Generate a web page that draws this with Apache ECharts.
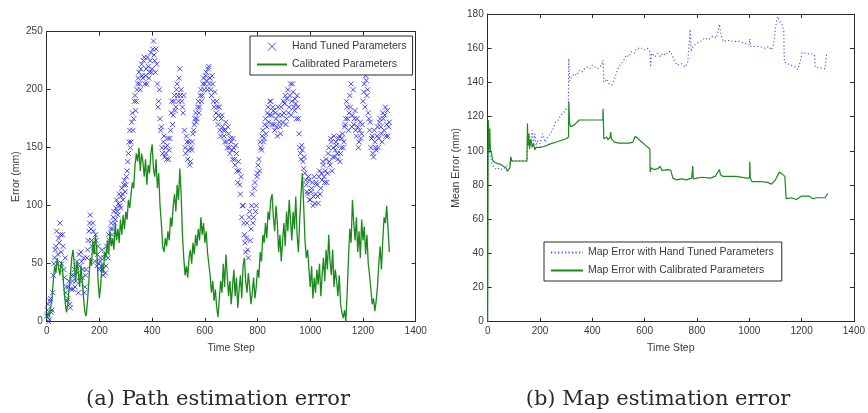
<!DOCTYPE html>
<html>
<head>
<meta charset="utf-8">
<script src="https://cdn.jsdelivr.net/npm/echarts@6/dist/echarts.min.js"></script>
<style>
html,body{margin:0;padding:0;background:#fff;}
#chart{width:868px;height:413px;}
</style>
</head>
<body>
<div id="chart"></div>
<script>
// ---- (a) Path estimation error : values sampled every 5 time steps ----
const pathStep = 5;
const xTicks = [0, 200, 400, 600, 800, 1000, 1200, 1400];
const pathYTicks = [0, 50, 100, 150, 200, 250];
const mapYTicks = [0, 20, 40, 60, 80, 100, 120, 140, 160, 180];

// hand tuned, t = 0, 5, 10, ... 1300
const handTunedPathA = [
  5, 15, 2, 20, 10, 40, 55, 65, 50, 72,
  85, 60, 75, 45, 55, 30, 20, 35, 12, 40,
  28, 45, 35, 52, 25, 48, 60, 38, 55, 30,
  45, 62, 78, 92, 70, 85, 60, 75, 48, 65,
  45, 55, 62, 40, 58, 48, 60, 75, 68, 85,
  80, 95, 88, 105, 92, 110, 98, 115, 105, 122,
  118, 130, 145, 165, 155, 180, 175, 195, 190, 205,
  215, 200, 222, 210, 228, 212, 205, 220, 215, 232,
  218, 242, 225, 235, 205, 190, 175, 168, 145, 160,
  150, 140, 158, 148, 165, 190, 178, 195, 185, 205,
  190, 218, 200, 185, 195, 150, 160, 140, 155, 138,
  148, 162, 170, 180, 175, 190, 185, 200, 195, 210,
  205, 215, 200, 220, 210, 195, 205, 185, 175, 190,
  170, 185, 160, 178, 165, 155, 172, 150, 162, 145,
  155, 140, 150, 135, 145, 120, 130, 110, 90, 100,
  75, 60, 85, 55, 95, 80, 110, 90, 120, 100,
  128, 140, 155, 148, 165, 158, 175, 168, 185, 178,
  190, 170, 182, 165, 175, 160, 178, 168, 185, 172,
  180, 195, 175, 200, 185, 205, 190, 198, 182, 188,
  195, 175, 150, 140, 148, 132, 128, 118, 110, 122,
  105, 115, 100, 125, 110, 118, 102, 130, 115, 122,
  135, 120, 140, 128, 150, 135, 155, 142, 160, 148,
  152, 140, 160, 145, 158, 150, 168, 175, 185, 165,
  195, 205, 178, 170, 182, 160, 168, 155, 172, 162,
  190, 205, 212, 195, 180, 165, 150, 160, 142, 155,
  148, 168, 158, 175, 162, 180, 165, 185, 170, 160,
  172
];
// hand tuned, t = 2.5, 7.5, ... 1297.5
const handTunedPathB = [
  10, 0, 18, 8, 25, 50, 62, 78, 58, 68,
  75, 50, 65, 38, 25, 18, 30, 15, 28, 35,
  40, 30, 48, 42, 58, 35, 52, 45, 25, 40,
  55, 70, 85, 80, 65, 78, 52, 70, 58, 50,
  52, 48, 45, 55, 42, 65, 55, 70, 80, 75,
  90, 85, 98, 95, 102, 100, 108, 110, 118, 112,
  125, 138, 155, 150, 172, 165, 190, 182, 200, 210,
  205, 218, 212, 225, 205, 218, 228, 210, 225, 215,
  235, 230, 215, 222, 185, 200, 165, 150, 155, 142,
  145, 152, 140, 158, 180, 170, 190, 182, 200, 195,
  210, 195, 190, 180, 165, 145, 155, 148, 135, 150,
  155, 165, 175, 172, 185, 180, 195, 190, 205, 200,
  212, 208, 218, 205, 200, 212, 190, 198, 180, 185,
  178, 165, 175, 168, 160, 165, 155, 168, 150, 158,
  148, 158, 140, 152, 130, 138, 118, 125, 100, 85,
  68, 72, 62, 90, 70, 100, 85, 115, 95, 125,
  135, 130, 150, 160, 155, 170, 162, 180, 172, 190,
  178, 185, 170, 180, 168, 185, 172, 162, 178, 190,
  188, 170, 192, 180, 195, 178, 205, 185, 192, 175,
  185, 162, 145, 152, 138, 142, 122, 112, 125, 105,
  112, 120, 108, 102, 120, 108, 125, 110, 128, 138,
  125, 130, 120, 145, 138, 158, 130, 150, 142, 155,
  145, 158, 138, 150, 162, 155, 170, 190, 175, 180,
  185, 168, 200, 175, 165, 175, 150, 165, 158, 170,
  198, 185, 208, 200, 175, 172, 158, 145, 165, 150,
  160, 150, 172, 168, 155, 175, 178, 160, 182, 168
];

// calibrated, t = 0, 5, 10, ... 1300
const calibratedPath = [
  2, 8, 4, 12, 20, 35, 48, 42, 55, 47,
  40, 52, 45, 30, 18, 8, 15, 28, 40, 55,
  62, 48, 35, 52, 42, 30, 48, 35, 20, 8,
  5, 18, 35, 55, 48, 70, 58, 75, 62, 35,
  20, 32, 50, 42, 60, 55, 70, 58, 78, 65,
  72, 62, 85, 70, 80, 68, 88, 75, 92, 80,
  95, 88, 105, 98, 110, 120, 115, 135, 145, 138,
  150, 130, 145, 138, 125, 140, 118, 135, 128, 145,
  153, 132, 125, 140, 115, 128, 100, 85, 65, 60,
  72, 65, 78, 70, 90, 82, 100, 110, 95, 118,
  105, 132, 110, 75, 55, 40, 48, 38, 55, 62,
  50, 68, 58, 75, 65, 80, 70, 90, 75, 85,
  68, 78, 60, 50, 40, 25, 35, 18, 28, 12,
  4, 20, 35, 25, 50, 30, 58, 40, 22, 35,
  15, 30, 45, 22, 38, 12, 28, 40, 20, 48,
  55, 35, 25, 42, 30, 15, 25, 38, 20, 30,
  45, 38, 60, 52, 75, 68, 85, 72, 95, 88,
  105, 110, 90, 78, 100, 85, 60, 75, 52, 70,
  85, 65, 95, 78, 105, 88, 70, 95, 80, 108,
  75, 60, 88, 110, 128, 100, 70, 55, 62, 45,
  30, 48, 20, 38, 25, 45, 32, 50, 22, 40,
  55, 35, 62, 45, 75, 52, 40, 62, 30, 45,
  35, 22, 40, 15, 8, 3, 10, 0, 25, 55,
  80, 68, 105, 85, 70, 90, 60, 78, 55, 88,
  70, 82, 58, 75, 50, 40, 28, 15, 20, 9,
  18, 30, 50, 65, 45, 70, 90, 85, 100, 80,
  60
];

// ---- (b) Map estimation error : [time step, mean error] ----
const handTunedMap = [
  [0,101],[8,98],[15,93],[25,90],[35,89],[45,90],[55,89],[65,90],[75,91.5],[85,93],[95,94],[110,94],[150,94],
  [152,106],[158,110],[163,103],[170,112],[175,104],[180,110],[185,103],[190,106],[200,104],[210,110],
  [220,105],[230,108],[240,110],[250,113],[260,117],[270,118],[280,121],[290,122],[300,125],[308,124],
  [310,154],[313,141],[320,143],[330,145],[340,144],[350,147],[360,146],[370,148],[380,149],[390,148],
  [400,150],[420,148],[435,150],[441,153],[444,140],[455,142],[465,139],[475,138.5],[485,142],[495,147],
  [505,150],[520,153],[530,156],[540,155],[550,158],[560,157],[570,160],[580,160],[590,160],[600,159],
  [610,160],[620,158],[623,149],[627,157],[640,155],[650,157],[660,155],[670,157],[680,156],[690,158],
  [700,158],[712,153],[725,150],[740,151],[755,149],[765,152],[772,152],[774,171],[778,158],[785,161],
  [800,163],[815,164],[830,166],[845,165],[860,167],[875,166],[886,174],[892,168],[900,164],[920,164.5],
  [940,164],[960,164],[980,163],[1000,162],[1002,165.5],[1006,161],[1020,161],[1040,161],[1060,160],
  [1075,161],[1085,159],[1093,162],[1100,172],[1108,178.5],[1115,176],[1125,174],[1132,170],[1134,152],
  [1145,151],[1160,150],[1175,149],[1185,147.5],[1195,152],[1202,157.5],[1215,157],[1240,156.5],
  [1250,156],[1252,149],[1270,148.5],[1290,148],[1296,157]
];

const calibratedMap = [
  [0,0],[2,118],[5,100],[8,113],[10,101],[15,98],[20,94],[30,93],[40,92.5],[50,92],[60,91],[70,90],
  [75,88],[81,88.5],[85,90],[88,96.5],[92,94],[100,94],[150,94],[152,116],[154,103],[157,110],[160,101],
  [165,107],[170,102],[175,104.5],[180,100.5],[185,102],[190,101],[200,102],[215,102.5],[240,104],
  [260,105],[280,106],[300,107],[309,108],[310,129],[313,116],[318,114],[330,115],[350,118],[380,118],
  [410,118],[440,118],[441,124.5],[444,107],[455,108],[460,106.5],[468,108],[470,111],[473,107],
  [485,105],[500,104.5],[540,104.5],[555,105],[564,108.5],[575,107],[590,105],[605,103],[620,101],
  [621,87.5],[625,90],[635,89],[650,89.5],[660,91],[665,88.5],[690,89],[700,88.5],[708,84],[720,83],
  [740,83.5],[760,83],[780,84],[784,91],[786,83.5],[800,84],[820,84.5],[850,84],[870,85],[886,89],
  [890,86],[900,85],[950,85],[990,84],[1001,84],[1002,93.5],[1004,84],[1010,82],[1040,82],[1070,81.5],
  [1085,80.5],[1090,80],[1100,83],[1115,87.5],[1125,86.5],[1136,85],[1140,85],[1141,72],[1160,72.5],
  [1180,71.5],[1200,73.5],[1230,73.5],[1240,72],[1260,72.5],[1290,72.5],[1300,75]
];

// ---- build [t, v] pairs from the sampled path arrays ----
const handPathData = handTunedPathA.map((v, i) => [i * pathStep, v])
  .concat(handTunedPathB.map((v, i) => [i * pathStep + pathStep / 2, v]));
const calPathData = calibratedPath.map((v, i) => [i * pathStep, v]);

const FONT = 'Liberation Sans';
const AX = '#2b2b2b';
const LBL = '#3a3a3a';
const BLUE = '#1e1eff';
const GREEN = '#1a8a1a';
const xMark = 'path://M0,0L10,10M0,10L10,0';

function xAxes(grid) {
  const base = {
    type: 'value', gridIndex: grid, min: 0, max: 1400, interval: 200,
    splitLine: { show: false },
    axisLine: { show: true, onZero: false, lineStyle: { color: AX, width: 1 } },
    axisTick: { show: true, inside: true, length: 4, lineStyle: { color: AX } }
  };
  return [
    Object.assign({}, base, {
      position: 'bottom',
      name: 'Time Step', nameLocation: 'middle', nameGap: 21,
      nameTextStyle: { fontFamily: FONT, fontSize: 10.5, color: LBL },
      axisLabel: { fontFamily: FONT, fontSize: 10, color: LBL, margin: 5,
        formatter: v => (xTicks.indexOf(v) >= 0 ? String(v) : '') }
    }),
    Object.assign({}, base, { position: 'top', axisLabel: { show: false } })
  ];
}
function yAxes(grid, max, interval, name, gap, ticks) {
  const base = {
    type: 'value', gridIndex: grid, min: 0, max: max, interval: interval,
    splitLine: { show: false },
    axisLine: { show: true, onZero: false, lineStyle: { color: AX, width: 1 } },
    axisTick: { show: true, inside: true, length: 4, lineStyle: { color: AX } }
  };
  return [
    Object.assign({}, base, {
      position: 'left',
      name: name, nameLocation: 'middle', nameGap: gap,
      nameTextStyle: { fontFamily: FONT, fontSize: 10.5, color: LBL },
      axisLabel: { fontFamily: FONT, fontSize: 10, color: LBL, margin: 4,
        formatter: v => (ticks.indexOf(v) >= 0 ? String(v) : '') }
    }),
    Object.assign({}, base, { position: 'right', axisLabel: { show: false } })
  ];
}

const chart = echarts.init(document.getElementById('chart'), null, { renderer: 'canvas' });

const xa = xAxes(0).concat(xAxes(1));
const ya = yAxes(0, 250, 50, 'Error (mm)', 25, pathYTicks).concat(yAxes(1, 180, 20, 'Mean Error (mm)', 26, mapYTicks));
const hideSym = { opacity: 0 };

chart.setOption({
  animation: false,
  backgroundColor: '#ffffff',
  textStyle: { fontFamily: FONT },
  grid: [
    { left: 46.7, top: 31.7, width: 369, height: 290 },
    { left: 487.7, top: 14, width: 367.3, height: 307.7 }
  ],
  xAxis: xa,
  yAxis: ya,
  legend: [
    {
      orient: 'vertical', left: 250, top: 36,
      padding: [5, 6, 5, 6], itemGap: 7, itemWidth: 30, itemHeight: 8,
      backgroundColor: '#fff', borderColor: AX, borderWidth: 1, borderRadius: 0,
      textStyle: { fontFamily: FONT, fontSize: 10.5, color: LBL },
      data: [
        { name: 'Hand Tuned Parameters', icon: xMark,
          itemStyle: { color: 'rgba(0,0,0,0)', borderColor: BLUE, borderWidth: 1 } },
        { name: 'Calibrated Parameters', itemStyle: hideSym }
      ]
    },
    {
      orient: 'vertical', left: 544, top: 242,
      padding: [5, 8, 5, 6], itemGap: 7, itemWidth: 32, itemHeight: 8,
      backgroundColor: '#fff', borderColor: AX, borderWidth: 1, borderRadius: 0,
      textStyle: { fontFamily: FONT, fontSize: 10.5, color: LBL },
      data: [
        { name: 'Map Error with Hand Tuned Parameters', itemStyle: hideSym },
        { name: 'Map Error with Calibrated Parameters', itemStyle: hideSym }
      ]
    }
  ],
  graphic: [
    { type: 'text', x: 218, y: 400, style: { text: '(a) Path estimation error', fontFamily: 'DejaVu Serif', fontSize: 21, fill: '#2a2a2a', align: 'center', verticalAlign: 'middle', textAlign: 'center', textVerticalAlign: 'middle' } },
    { type: 'text', x: 658, y: 400, style: { text: '(b) Map estimation error', fontFamily: 'DejaVu Serif', fontSize: 21, fill: '#2a2a2a', align: 'center', verticalAlign: 'middle', textAlign: 'center', textVerticalAlign: 'middle' } }
  ],
  series: [
    {
      name: 'Hand Tuned Parameters', type: 'scatter', xAxisIndex: 0, yAxisIndex: 0,
      data: handPathData, symbol: xMark, symbolSize: 5,
      itemStyle: { color: 'rgba(0,0,0,0)', borderColor: BLUE, borderWidth: 1, opacity: 0.8 },
      z: 2
    },
    {
      name: 'Calibrated Parameters', type: 'line', xAxisIndex: 0, yAxisIndex: 0,
      data: calPathData, symbol: 'none', showSymbol: false,
      lineStyle: { color: GREEN, width: 1.3 }, itemStyle: { color: GREEN },
      z: 3
    },
    {
      name: 'Map Error with Hand Tuned Parameters', type: 'line', xAxisIndex: 2, yAxisIndex: 2,
      data: handTunedMap, symbol: 'none', showSymbol: false,
      lineStyle: { color: '#4d4dff', width: 1.1, type: [1.2, 2.3] }, itemStyle: { color: '#4d4dff' },
      z: 2
    },
    {
      name: 'Map Error with Calibrated Parameters', type: 'line', xAxisIndex: 2, yAxisIndex: 2,
      data: calibratedMap, symbol: 'none', showSymbol: false,
      lineStyle: { color: GREEN, width: 1.2 }, itemStyle: { color: GREEN },
      z: 3
    }
  ]
});
</script>
</body>
</html>
